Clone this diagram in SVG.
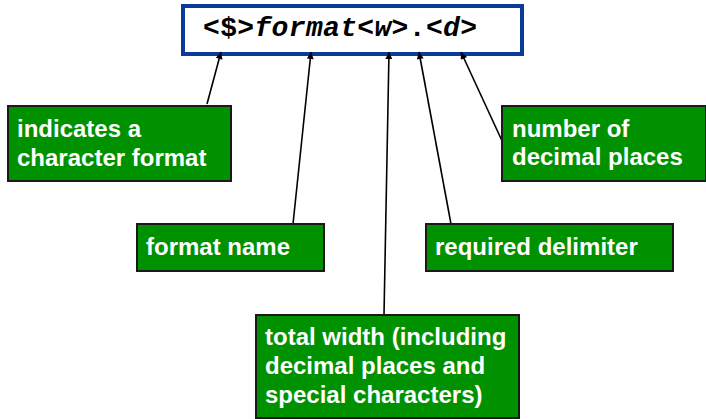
<svg xmlns="http://www.w3.org/2000/svg" width="706" height="419" viewBox="0 0 706 419">
  <style>
    .fmt { fill: #ffffff; stroke: #0a3a9a; stroke-width: 4; }
    .code { font-family: "Liberation Mono", "Courier New", monospace; font-weight: bold; font-size: 28px; fill: #000; }
    .code .it { font-style: italic; }
    .note { fill: #009100; stroke: #1a1a1a; stroke-width: 2; }
    .label { font-family: "Liberation Sans", Arial, sans-serif; font-weight: bold; font-size: 24px; fill: #ffffff; }
    .conn line { stroke: #000; stroke-width: 1.6; marker-end: url(#tip); }
  </style>
  <defs>
    <marker id="tip" viewBox="0 0 10 10" refX="10" refY="5" markerWidth="11" markerHeight="7" markerUnits="userSpaceOnUse" orient="auto">
      <path d="M0,0 L10,5 L0,10 z" fill="#000"/>
    </marker>
  </defs>

  <g id="format-spec">
    <rect class="fmt" x="183" y="6" width="339" height="48"/>
    <text class="code" x="203" y="36" textLength="274" lengthAdjust="spacing">&lt;$&gt;<tspan class="it">format</tspan>&lt;<tspan class="it">w</tspan>&gt;.&lt;<tspan class="it">d</tspan>&gt;</text>
  </g>

  <g id="connectors" class="conn">
    <line x1="207" y1="104" x2="221" y2="52"/>
    <line x1="293" y1="224" x2="311" y2="52"/>
    <line x1="384" y1="315" x2="389" y2="52"/>
    <line x1="451" y1="224" x2="419" y2="52"/>
    <line x1="503" y1="143" x2="461" y2="52"/>
  </g>

  <g id="node-char">
    <rect class="note" x="8" y="106" width="223" height="75"/>
    <text class="label" x="17" y="137">indicates a</text>
    <text class="label" x="17" y="166">character format</text>
  </g>

  <g id="node-name">
    <rect class="note" x="137" y="224" width="187" height="47"/>
    <text class="label" x="146" y="255">format name</text>
  </g>

  <g id="node-delim">
    <rect class="note" x="426" y="224" width="247" height="47"/>
    <text class="label" x="435" y="255">required delimiter</text>
  </g>

  <g id="node-decimals">
    <rect class="note" x="502" y="106" width="204" height="75"/>
    <text class="label" x="512" y="137">number of</text>
    <text class="label" x="512" y="165">decimal places</text>
  </g>

  <g id="node-width">
    <rect class="note" x="256" y="315" width="263" height="103"/>
    <text class="label" x="265" y="345">total width (including</text>
    <text class="label" x="265" y="374">decimal places and</text>
    <text class="label" x="265" y="403">special characters)</text>
  </g>
</svg>
